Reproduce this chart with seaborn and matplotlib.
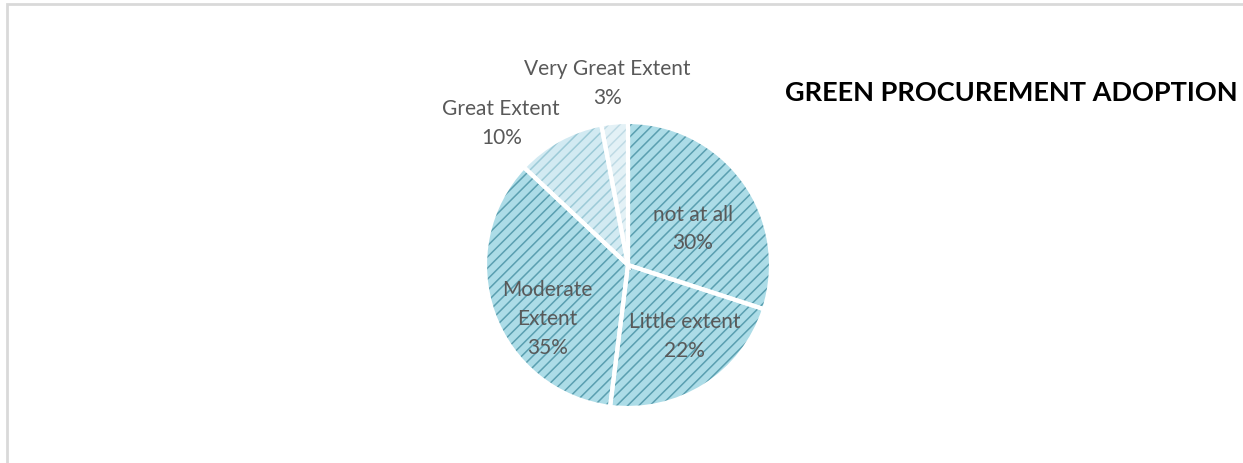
import numpy as np
import matplotlib
matplotlib.use("Agg")
import matplotlib.pyplot as plt
import seaborn as sns
from matplotlib.patches import Rectangle

# data
categories = ['not at all', 'Little extent', 'Moderate\nExtent', 'Great Extent', 'Very Great Extent']
shares = [30, 22, 35, 10, 3]
title = 'GREEN PROCUREMENT ADOPTION'

# style per slice
face_cols = ['#acdce7', '#acdce7', '#acdce7', '#d2eaf2', '#e3f1f6']
hatch_cols = ['#5a9fb0', '#5a9fb0', '#5a9fb0', '#9ccad7', '#bfdbe5']
label_dist = [0.52, 0.64, 0.68, 1.33, 1.28]
label_shift = [-7, 6, 14, 13, 1]   # degrees, to move labels like the original

sns.set_theme(style="white")
plt.rcParams['font.family'] = ['Lato', 'DejaVu Sans']
plt.rcParams['hatch.linewidth'] = 1.1

fig = plt.figure(figsize=(12.43, 4.63), dpi=100)

# light grey chart frame
fig.patches.append(Rectangle((7 / 1243, -0.1), 1.2, (463 - 4) / 463 + 0.1,
                             transform=fig.transFigure, fill=False,
                             edgecolor='#d9d9d9', linewidth=2, zorder=0))

cx, cy, R = 628, 463 - 265, 143
pad = 1.05
ax = fig.add_axes([(cx - R * pad) / 1243, (cy - R * pad) / 463,
                   2 * R * pad / 1243, 2 * R * pad / 463])

wedges, _ = ax.pie(shares, startangle=90, counterclock=False, radius=1,
                   colors=face_cols, wedgeprops=dict(linewidth=0))
for w, hc in zip(wedges, hatch_cols):
    w.set_hatch('///')
    w.set_edgecolor(hc)
    w.set_linewidth(0)

# white separators
ax.pie(shares, startangle=90, counterclock=False, radius=1,
       wedgeprops=dict(fill=False, edgecolor='white', linewidth=3))

ax.set_xlim(-pad, pad)
ax.set_ylim(-pad, pad)
ax.axis('off')

for w, lab, pct, d, s in zip(wedges, categories, shares, label_dist, label_shift):
    ang = np.deg2rad((w.theta1 + w.theta2) / 2 + s)
    x, y = d * np.cos(ang), d * np.sin(ang)
    ax.text(x, y, f"{lab}\n{pct}%", ha='center', va='center', fontsize=15,
            color='#595959', linespacing=1.55, clip_on=False)

fig.text(1238 / 1243, 1 - 93 / 463, title, ha='right', va='center',
         fontsize=19.5, fontweight='bold', color='black')

fig.savefig('out.png', dpi=100)
